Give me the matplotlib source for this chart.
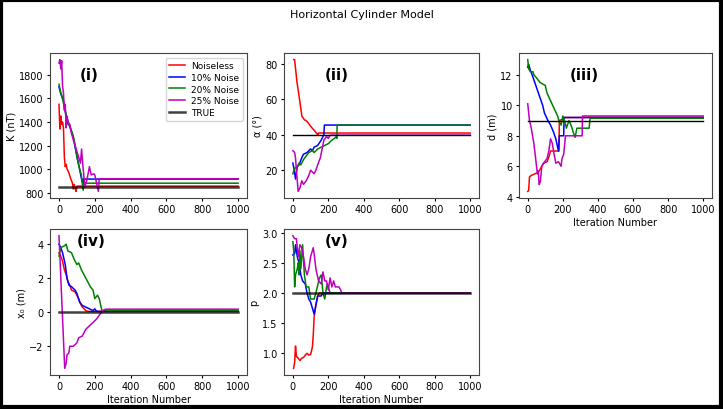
import matplotlib
matplotlib.use("Agg")
import matplotlib.pyplot as plt
from matplotlib.patches import Rectangle

# (iteration, value) pairs, last point held to 1000
K_TRUE = 850
K_NOISELESS = [(0, 1550), (5, 1340), (10, 1450), (15, 1380), (20, 1400), (25, 1350),
               (30, 1100), (35, 1020), (40, 1040), (45, 1000), (55, 970), (65, 920),
               (75, 880), (80, 830), (85, 870), (90, 840), (95, 810), (100, 855), (1000, 855)]
K_N10 = [(0, 1700), (10, 1640), (25, 1580), (40, 1460), (55, 1380), (75, 1300),
         (95, 1150), (115, 1000), (128, 900), (135, 880), (135, 915), (215, 915),
         (220, 915), (1000, 915)]
K_N20 = [(0, 1720), (10, 1650), (20, 1600), (30, 1520), (40, 1450), (50, 1380),
         (60, 1370), (75, 1300), (85, 1250), (100, 1100), (115, 1000), (125, 950),
         (130, 880), (135, 820), (140, 880), (1000, 880)]
K_N25 = [(0, 1900), (5, 1930), (10, 1850), (15, 1920), (20, 1700), (25, 1650),
         (30, 1500), (35, 1550), (40, 1350), (45, 1450), (50, 1400), (60, 1380),
         (70, 1300), (80, 1250), (90, 1200), (100, 1150), (110, 1100), (120, 1050),
         (126, 1170), (135, 1000), (145, 850), (150, 880), (155, 900), (170, 1020),
         (180, 950), (195, 960), (200, 950), (210, 880), (220, 810), (225, 918), (1000, 918)]

A_TRUE = 40
A_NOISELESS = [(5, 82.5), (10, 82.4), (23, 70), (42, 57), (51, 50.5), (65, 48.5),
               (79, 47.7), (107, 44), (125, 42), (136, 40.6), (141, 39.9), (145, 41), (1000, 41)]
A_N10 = [(0, 24), (8, 20), (15, 15), (25, 22), (35, 23), (50, 27), (60, 29), (80, 30),
         (100, 32), (110, 31), (120, 33), (140, 34), (160, 37), (175, 40), (178, 45.5),
         (1000, 45.5)]
A_N20 = [(0, 18), (10, 21), (25, 22), (35, 24), (45, 23), (60, 26), (75, 28), (90, 30),
         (110, 31), (120, 30), (140, 32), (160, 33), (180, 34), (200, 35), (220, 37),
         (235, 38), (245, 39), (248, 38), (250, 45.5), (1000, 45.5)]
A_N25 = [(0, 31), (10, 30), (15, 27), (20, 20), (30, 8), (40, 10), (50, 14), (60, 12),
         (75, 14), (90, 17), (100, 20), (110, 19), (120, 18), (130, 20), (140, 23),
         (155, 27), (165, 32), (175, 37), (190, 39), (200, 38), (210, 39.8), (1000, 39.8)]

D_TRUE = 9.0
D_NOISELESS = [(0, 4.35), (5, 4.4), (10, 5.3), (20, 5.4), (40, 5.5), (60, 5.6), (70, 5.8),
               (80, 6.0), (90, 6.2), (110, 6.3), (120, 6.6), (130, 7.0), (178, 7.0),
               (180, 9.0), (200, 9.1), (205, 9.2), (1000, 9.2)]
D_N10 = [(0, 12.5), (5, 12.7), (15, 12.3), (25, 12.0), (40, 11.5), (55, 11.0), (70, 10.5),
         (85, 10.0), (95, 9.5), (115, 9.0), (130, 8.7), (145, 8.3), (160, 7.8), (175, 7.0),
         (180, 8.0), (205, 8.0), (207, 9.2), (1000, 9.2)]
D_N20 = [(0, 13.0), (5, 12.4), (15, 12.2), (30, 12.2), (35, 12.0), (50, 11.8), (70, 11.5),
         (100, 11.3), (110, 10.8), (130, 10.3), (150, 9.8), (170, 9.3), (180, 8.9),
         (190, 8.7), (200, 9.3), (210, 9.0), (220, 8.5), (235, 9.0), (250, 8.6), (260, 8.2),
         (270, 7.9), (280, 8.5), (350, 8.5), (355, 9.15), (1000, 9.15)]
D_N25 = [(0, 10.1), (10, 9.0), (20, 8.5), (35, 7.5), (45, 6.5), (55, 5.5), (60, 5.7),
         (65, 4.8), (72, 5.0), (80, 6.0), (90, 6.2), (110, 6.5), (120, 7.0), (130, 7.8),
         (140, 7.5), (150, 6.8), (160, 6.2), (175, 6.3), (190, 6.0), (195, 6.5), (205, 6.8),
         (215, 8.0), (310, 8.0), (312, 9.3), (1000, 9.3)]

X_TRUE = 0.0
X_NOISELESS = [(0, 3.5), (10, 3.3), (20, 3.0), (30, 2.5), (40, 2.2), (50, 1.8), (60, 1.6),
               (70, 1.3), (90, 1.2), (100, 1.0), (110, 0.8), (120, 0.5), (130, 0.3),
               (150, 0.1), (160, 0.05), (1000, 0.05)]
X_N10 = [(0, 4.0), (10, 3.8), (20, 3.5), (35, 2.8), (45, 2.0), (55, 1.6), (70, 1.5),
         (90, 1.3), (100, 1.1), (115, 0.6), (130, 0.4), (150, 0.3), (170, 0.2), (190, 0.1),
         (200, 0.2), (210, 0.05), (1000, 0.08)]
X_N20 = [(0, 3.3), (10, 3.8), (30, 3.9), (40, 4.0), (50, 3.6), (70, 3.5), (85, 3.1),
         (100, 2.8), (110, 2.9), (125, 2.5), (150, 2.0), (175, 1.5), (190, 1.3), (200, 0.8),
         (215, 1.0), (225, 0.8), (235, 0.3), (240, 0.1), (1000, 0.12)]
X_N25 = [(0, 4.5), (32, -3.3), (40, -3.0), (45, -2.5), (55, -2.4), (60, -2.0), (80, -2.0),
         (90, -1.9), (100, -1.8), (110, -1.5), (130, -1.4), (140, -1.2), (150, -1.0),
         (170, -0.8), (190, -0.6), (210, -0.4), (230, -0.1), (245, 0.1), (260, 0.18),
         (1000, 0.18)]

P_TRUE = 2.0
P_NOISELESS = [(4, 0.75), (10, 0.85), (15, 1.12), (20, 0.95), (30, 0.92), (40, 0.88),
               (50, 0.92), (60, 0.93), (70, 0.97), (80, 1.0), (90, 0.97), (100, 0.98),
               (110, 1.1), (115, 1.3), (120, 1.6), (130, 1.8), (140, 1.95), (150, 2.0),
               (1000, 2.0)]
P_N10 = [(0, 2.63), (10, 2.65), (15, 2.8), (25, 2.6), (35, 2.5), (45, 2.3), (55, 2.2),
         (70, 2.15), (80, 2.0), (90, 1.9), (100, 1.85), (110, 1.75), (120, 1.65), (130, 1.8),
         (140, 1.95), (160, 1.95), (170, 2.0), (1000, 2.0)]
P_N20 = [(0, 2.85), (5, 2.7), (10, 2.1), (15, 2.3), (25, 2.4), (30, 2.5), (35, 2.3),
         (40, 2.7), (45, 2.4), (55, 2.8), (65, 2.3), (75, 2.1), (90, 2.1), (100, 1.9),
         (120, 1.9), (130, 2.0), (150, 2.25), (160, 2.3), (170, 2.0), (180, 1.9), (190, 2.1),
         (195, 2.15), (210, 2.0), (1000, 2.0)]
P_N25 = [(0, 2.95), (10, 2.9), (20, 2.9), (30, 2.6), (40, 2.8), (50, 2.75), (60, 2.6),
         (70, 2.4), (80, 2.3), (90, 2.4), (100, 2.6), (115, 2.75), (120, 2.65), (130, 2.4),
         (145, 2.2), (160, 2.15), (170, 2.35), (180, 2.2), (190, 2.2), (200, 2.05),
         (210, 2.25), (220, 2.1), (230, 2.2), (240, 2.1), (260, 2.1), (270, 2.05),
         (275, 2.0), (1000, 2.0)]

LABELS = ["Noiseless", "10% Noise", "20% Noise", "25% Noise"]
COLORS = ["r", "b", "g", "m"]

plt.rcParams["font.size"] = 7
plt.rcParams["xtick.major.size"] = 2.5
plt.rcParams["ytick.major.size"] = 2.5
plt.rcParams["xtick.major.pad"] = 2
plt.rcParams["ytick.major.pad"] = 2
plt.rcParams["axes.labelpad"] = 2
plt.rcParams["axes.edgecolor"] = "#444444"

fig = plt.figure(figsize=(7.23, 4.10), dpi=100)

#############################
#        PANELS             #
#############################

panels = [
    ([K_NOISELESS, K_N10, K_N20, K_N25], K_TRUE, "K (nT)", "(i)", (0.2, 0.855), True,
     [0.0692, 0.5146, 0.2725, 0.3537], False),
    ([A_NOISELESS, A_N10, A_N20, A_N25], A_TRUE, "α (°)", "(ii)", (0.27, 0.855), False,
     [0.3928, 0.5146, 0.2697, 0.3537], False),
    ([D_NOISELESS, D_N10, D_N20, D_N25], D_TRUE, "d (m)", "(iii)", (0.34, 0.855), False,
     [0.7178, 0.5146, 0.2670, 0.3537], True),
    ([X_NOISELESS, X_N10, X_N20, X_N25], X_TRUE, "x₀ (m)", "(iv)", (0.21, 0.92), True,
     [0.0692, 0.0829, 0.2725, 0.3560], True),
    ([P_NOISELESS, P_N10, P_N20, P_N25], P_TRUE, "p", "(v)", (0.27, 0.92), True,
     [0.3928, 0.0829, 0.2697, 0.3560], True),
]

for i, (series, true_val, ylab, tag, tag_pos, thick_true, rect, show_x) in enumerate(panels):
    ax = fig.add_axes(rect)
    for pts, lab, col in zip(series, LABELS, COLORS):
        xs = [p[0] for p in pts]
        ys = [p[1] for p in pts]
        ax.plot(xs, ys, color=col, lw=1.1, label=lab)
    if thick_true:
        ax.plot([0, 1000], [true_val, true_val], color="k", alpha=0.75, lw=1.8, label="TRUE")
    else:
        ax.plot([0, 1000], [true_val, true_val], color="k", lw=1.0, label="TRUE")
    ax.set_ylabel(ylab)
    if show_x:
        ax.set_xlabel("Iteration Number")
    ax.set_xticks([0, 200, 400, 600, 800, 1000])
    ax.text(tag_pos[0], tag_pos[1], tag, transform=ax.transAxes, ha="center", va="center",
            fontsize=11, fontweight="bold")
    if i == 0:
        ax.set_yticks([800, 1000, 1200, 1400, 1600, 1800])
        ax.legend(loc="upper right", fontsize=6.5, handlelength=1.8, labelspacing=0.3,
                  borderpad=0.4, handletextpad=0.6)
    if i == 2:
        ax.set_yticks([4, 6, 8, 10, 12])

fig.suptitle("Horizontal Cylinder Model", y=0.975, fontsize=8)

# black frame around the whole figure
fig.patches.append(Rectangle((0.002, 0.004), 0.995, 0.993, transform=fig.transFigure,
                             fill=False, edgecolor="k", lw=3))

fig.savefig("out.png", dpi=100)
